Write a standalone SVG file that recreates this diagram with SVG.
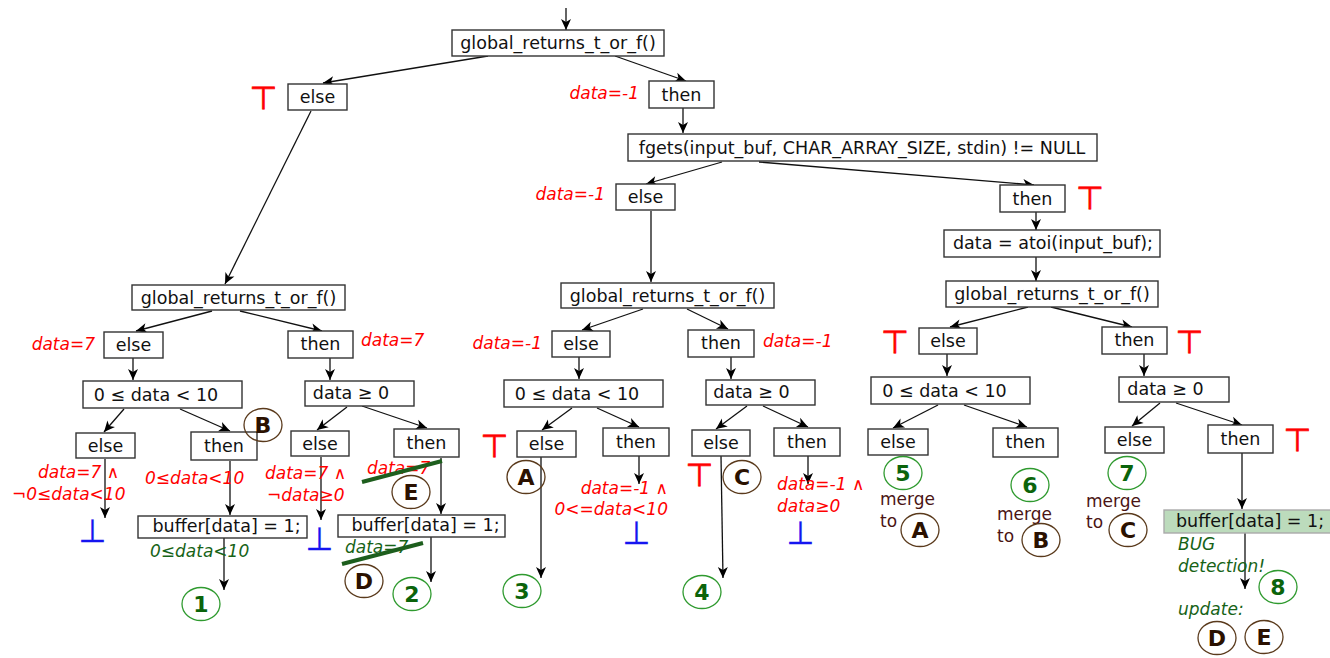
<svg xmlns="http://www.w3.org/2000/svg" width="1330" height="658" viewBox="0 0 1330 658">
<defs>
<marker id="ah" viewBox="-12 -6 13 12" refX="0" refY="0" markerWidth="13" markerHeight="12" orient="auto" markerUnits="userSpaceOnUse"><path d="M0,0 L-11,-5 L-8,0 L-11,5 Z" fill="#000"/></marker>
<style>
.b{fill:#fff;stroke:#333;stroke-width:1.4}
.bg{fill:#bcdbbc;stroke:#aaa;stroke-width:1.4}
.t{font-family:"DejaVu Sans",sans-serif;font-size:17.5px;fill:#111;text-anchor:middle}
.ts{font-family:"DejaVu Sans",sans-serif;font-size:17.5px;fill:#111}
.r{font-family:"DejaVu Sans",sans-serif;font-style:italic;font-size:17px;fill:#f00}
.re{font-family:"DejaVu Sans",sans-serif;font-style:italic;font-size:17px;fill:#f00;text-anchor:end}
.gi{font-family:"DejaVu Sans",sans-serif;font-style:italic;font-size:17px;fill:#176317}
.m{font-family:"DejaVu Sans",sans-serif;font-size:17px;fill:#4a1414}
.cg{fill:none;stroke:#2f9a2f;stroke-width:1.3}
.cb{fill:none;stroke:#5a3a1c;stroke-width:1.3}
.ng{font-family:"DejaVu Sans",sans-serif;font-weight:bold;font-size:22px;fill:#0b640b;text-anchor:middle}
.nb{font-family:"DejaVu Sans",sans-serif;font-weight:bold;font-size:22px;fill:#2b1100;text-anchor:middle}
.top{font-family:"DejaVu Sans",sans-serif;font-size:32px;fill:#f00;stroke:#f00;stroke-width:0.7;text-anchor:middle}
.bot{font-family:"DejaVu Sans",sans-serif;font-size:32px;fill:#1515f0;stroke:#1515f0;stroke-width:0.3;text-anchor:middle}
.st{stroke:#1d5e1d;stroke-width:4}
#conn line{stroke:#111;stroke-width:1.3;marker-end:url(#ah)}
</style>
</defs>
<rect width="1330" height="658" fill="#fff"/>
<g id="conn">
<line x1="566" y1="8" x2="566" y2="30"/>
<line x1="488" y1="56" x2="323" y2="83"/>
<line x1="615" y1="56" x2="686" y2="81"/>
<line x1="683" y1="108" x2="683" y2="133"/>
<line x1="722" y1="162" x2="646" y2="184"/>
<line x1="759" y1="162" x2="1034" y2="185"/>
<line x1="1036" y1="212" x2="1036" y2="230"/>
<line x1="1036" y1="257" x2="1036" y2="281"/>
<line x1="651" y1="211" x2="651" y2="282"/>
<line x1="311" y1="111" x2="225" y2="284"/>
<line x1="212" y1="311" x2="136" y2="331"/>
<line x1="240" y1="311" x2="322" y2="331"/>
<line x1="133" y1="358" x2="133" y2="380"/>
<line x1="330" y1="358" x2="330" y2="380"/>
<line x1="124" y1="409" x2="104" y2="432"/>
<line x1="180" y1="409" x2="230" y2="431"/>
<line x1="105" y1="459" x2="105" y2="518"/>
<line x1="230" y1="461" x2="230" y2="515"/>
<line x1="224" y1="538" x2="224" y2="590"/>
<line x1="347" y1="407" x2="317" y2="430"/>
<line x1="362" y1="406" x2="427" y2="428"/>
<line x1="321" y1="457" x2="321" y2="520"/>
<line x1="441" y1="458" x2="441" y2="514"/>
<line x1="431" y1="537" x2="431" y2="582"/>
<line x1="643" y1="309" x2="582" y2="330"/>
<line x1="687" y1="309" x2="728" y2="329"/>
<line x1="579" y1="357" x2="579" y2="379"/>
<line x1="731" y1="357" x2="731" y2="379"/>
<line x1="572" y1="408" x2="542" y2="430"/>
<line x1="597" y1="408" x2="639" y2="427"/>
<line x1="541" y1="457" x2="541" y2="578"/>
<line x1="639" y1="456" x2="639" y2="484"/>
<line x1="747" y1="406" x2="716" y2="429"/>
<line x1="763" y1="406" x2="808" y2="427"/>
<line x1="721" y1="456" x2="723" y2="578"/>
<line x1="808" y1="456" x2="808" y2="484"/>
<line x1="1028" y1="307" x2="950" y2="327"/>
<line x1="1051" y1="307" x2="1132" y2="327"/>
<line x1="947" y1="354" x2="947" y2="376"/>
<line x1="1144" y1="354" x2="1144" y2="376"/>
<line x1="938" y1="405" x2="893" y2="428"/>
<line x1="964" y1="405" x2="1027" y2="427"/>
<line x1="1160" y1="403" x2="1132" y2="426"/>
<line x1="1176" y1="403" x2="1242" y2="425"/>
<line x1="1242" y1="453" x2="1242" y2="509"/>
<line x1="1245" y1="533" x2="1245" y2="589"/>
</g>
<g id="n-g0"><rect class="b" x="452" y="30" width="212" height="26"/><text class="t" x="558" y="49">global_returns_t_or_f()</text></g>
<g id="n-e0"><rect class="b" x="288" y="84" width="59" height="26"/><text class="t" x="317.5" y="103">else</text><text class="top" x="263.5" y="109">⊤</text></g>
<g id="n-t0"><rect class="b" x="649" y="81" width="65" height="27"/><text class="t" x="681.5" y="101">then</text><text class="re" x="639" y="99">data=-1</text></g>
<g id="n-fgets"><rect class="b" x="628" y="134" width="469" height="27"/><text class="t" x="862" y="154">fgets(input_buf, CHAR_ARRAY_SIZE, stdin) != NULL</text></g>
<g id="n-e1"><rect class="b" x="616" y="184" width="59" height="26"/><text class="t" x="645.5" y="203">else</text><text class="re" x="605" y="200">data=-1</text></g>
<g id="n-t1"><rect class="b" x="1000" y="185" width="65" height="27"/><text class="t" x="1032.5" y="205">then</text><text class="top" x="1090" y="209">⊤</text></g>
<g id="n-atoi"><rect class="b" x="944" y="230" width="216" height="27"/><text class="t" x="1053" y="249">data = atoi(input_buf);</text></g>
<g id="n-g1"><rect class="b" x="132" y="285" width="213" height="25"/><text class="t" x="238.5" y="304">global_returns_t_or_f()</text></g>
<g id="n-g2"><rect class="b" x="561" y="283" width="213" height="25"/><text class="t" x="667.5" y="302">global_returns_t_or_f()</text></g>
<g id="n-g3"><rect class="b" x="946" y="281" width="212" height="26"/><text class="t" x="1052" y="300">global_returns_t_or_f()</text></g>

<g id="n-g1e"><rect class="b" x="104" y="332" width="59" height="26"/><text class="t" x="133.5" y="351">else</text><text class="re" x="95" y="350">data=7</text></g>
<g id="n-g1t"><rect class="b" x="288" y="331" width="65" height="27"/><text class="t" x="320.5" y="350">then</text><text class="r" x="361" y="346">data=7</text></g>
<g id="n-g1c"><rect class="b" x="83" y="381" width="159" height="27"/><text class="t" x="156" y="401">0 ≤ data &lt; 10</text></g>
<g id="n-g1d"><rect class="b" x="305" y="381" width="109" height="25"/><text class="t" x="351" y="399">data ≥ 0</text></g>
<g id="n-g1ce"><rect class="b" x="76" y="433" width="59" height="25"/><text class="t" x="105.5" y="452">else</text><text class="r" x="38" y="478">data=7 ∧</text><text class="r" x="12" y="500">¬0≤data&lt;10</text><text class="bot" x="92.5" y="542">⊥</text></g>
<g id="n-g1ct"><rect class="b" x="191" y="432" width="66" height="28"/><text class="t" x="224" y="452">then</text><ellipse class="cb" cx="263" cy="425" rx="19" ry="16.5"/><text class="nb" x="263" y="433">B</text><text class="r" x="145" y="484">0≤data&lt;10</text></g>
<g id="n-g1cb"><rect class="b" x="138" y="516" width="169" height="22"/><text class="t" x="226.5" y="532">buffer[data] = 1;</text><text class="gi" x="150" y="557">0≤data&lt;10</text></g>
<g id="n-1"><ellipse class="cg" cx="201" cy="604" rx="19" ry="16.5"/><text class="ng" x="201" y="612">1</text></g>
<g id="n-g1de"><rect class="b" x="291" y="431" width="58" height="25"/><text class="t" x="320" y="450">else</text><text class="r" x="265" y="479">data=7 ∧</text><text class="r" x="267" y="501">¬data≥0</text><text class="bot" x="319.5" y="550">⊥</text></g>
<g id="n-g1dt"><rect class="b" x="394" y="429" width="65" height="28"/><text class="t" x="426.5" y="449">then</text><text class="r" x="367" y="474">data=7</text><line class="st" x1="362" y1="482" x2="442" y2="461"/><ellipse class="cb" cx="411" cy="492" rx="19" ry="16.5"/><text class="nb" x="411" y="500">E</text></g>
<g id="n-g1db"><rect class="b" x="338" y="515" width="167" height="22"/><text class="t" x="425.5" y="531">buffer[data] = 1;</text><text class="gi" x="345" y="553">data=7</text><line class="st" x1="342" y1="564" x2="423" y2="543"/><ellipse class="cb" cx="364" cy="581" rx="19" ry="16.5"/><text class="nb" x="364" y="589">D</text></g>
<g id="n-2"><ellipse class="cg" cx="412" cy="594" rx="19" ry="16.5"/><text class="ng" x="412" y="602">2</text></g>

<g id="n-g2e"><rect class="b" x="552" y="331" width="58" height="26"/><text class="t" x="581" y="350">else</text><text class="re" x="542" y="349">data=-1</text></g>
<g id="n-g2t"><rect class="b" x="688" y="330" width="66" height="27"/><text class="t" x="721" y="349">then</text><text class="r" x="763" y="347">data=-1</text></g>
<g id="n-g2c"><rect class="b" x="504" y="380" width="159" height="27"/><text class="t" x="577" y="400">0 ≤ data &lt; 10</text></g>
<g id="n-g2d"><rect class="b" x="706" y="380" width="109" height="25"/><text class="t" x="751.5" y="398">data ≥ 0</text></g>
<g id="n-g2ce"><rect class="b" x="517" y="431" width="59" height="26"/><text class="t" x="546.5" y="450">else</text><text class="top" x="494.5" y="457">⊤</text><ellipse class="cb" cx="526" cy="477" rx="19" ry="16.5"/><text class="nb" x="526" y="485">A</text></g>
<g id="n-3"><ellipse class="cg" cx="522" cy="591" rx="19" ry="16.5"/><text class="ng" x="522" y="599">3</text></g>
<g id="n-g2ct"><rect class="b" x="603" y="428" width="66" height="28"/><text class="t" x="636" y="448">then</text><text class="re" x="668" y="494">data=-1 ∧</text><text class="re" x="668" y="515">0&lt;=data&lt;10</text><text class="bot" x="636.5" y="544">⊥</text></g>
<g id="n-g2de"><rect class="b" x="692" y="430" width="58" height="26"/><text class="t" x="721" y="449">else</text><text class="top" x="699.5" y="486">⊤</text><ellipse class="cb" cx="742" cy="477" rx="19" ry="16.5"/><text class="nb" x="742" y="485">C</text></g>
<g id="n-4"><ellipse class="cg" cx="702" cy="592" rx="19" ry="16.5"/><text class="ng" x="702" y="600">4</text></g>
<g id="n-g2dt"><rect class="b" x="774" y="428" width="66" height="28"/><text class="t" x="807" y="448">then</text><text class="r" x="777" y="490">data=-1 ∧</text><text class="r" x="777" y="512">data≥0</text><text class="bot" x="800.5" y="544">⊥</text></g>

<g id="n-g3e"><rect class="b" x="919" y="328" width="58" height="26"/><text class="t" x="948" y="347">else</text><text class="top" x="895" y="353">⊤</text></g>
<g id="n-g3t"><rect class="b" x="1102" y="327" width="65" height="27"/><text class="t" x="1134.5" y="346">then</text><text class="top" x="1189.5" y="353">⊤</text></g>
<g id="n-g3c"><rect class="b" x="871" y="377" width="159" height="27"/><text class="t" x="944.5" y="397">0 ≤ data &lt; 10</text></g>
<g id="n-g3d"><rect class="b" x="1119" y="377" width="110" height="25"/><text class="t" x="1165.5" y="395">data ≥ 0</text></g>
<g id="n-g3ce"><rect class="b" x="868" y="429" width="60" height="26"/><text class="t" x="898" y="448">else</text></g>
<g id="n-5"><ellipse class="cg" cx="903" cy="473" rx="19" ry="16.5"/><text class="ng" x="903" y="481">5</text><text class="m" x="880" y="505">merge</text><text class="m" x="880" y="527">to</text><ellipse class="cb" cx="920" cy="530" rx="19" ry="16.5"/><text class="nb" x="920" y="538">A</text></g>
<g id="n-g3ct"><rect class="b" x="993" y="428" width="65" height="29"/><text class="t" x="1025.5" y="448">then</text></g>
<g id="n-6"><ellipse class="cg" cx="1030" cy="485" rx="19" ry="16.5"/><text class="ng" x="1030" y="493">6</text><text class="m" x="997" y="520">merge</text><text class="m" x="997" y="542">to</text><ellipse class="cb" cx="1041" cy="540" rx="19" ry="16.5"/><text class="nb" x="1041" y="548">B</text></g>
<g id="n-g3de"><rect class="b" x="1105" y="427" width="59" height="26"/><text class="t" x="1134.5" y="446">else</text></g>
<g id="n-7"><ellipse class="cg" cx="1127" cy="473" rx="19" ry="16.5"/><text class="ng" x="1127" y="481">7</text><text class="m" x="1086" y="507">merge</text><text class="m" x="1086" y="528">to</text><ellipse class="cb" cx="1128" cy="530" rx="19" ry="16.5"/><text class="nb" x="1128" y="538">C</text></g>
<g id="n-g3dt"><rect class="b" x="1208" y="425" width="65" height="28"/><text class="t" x="1240.5" y="445">then</text><text class="top" x="1297.5" y="451">⊤</text></g>
<g id="n-bug"><rect class="bg" x="1164" y="510" width="168" height="23"/><text class="ts" x="1176" y="527">buffer[data] = 1;</text><text class="gi" x="1178" y="550">BUG</text><text class="gi" x="1178" y="572">detection!</text></g>
<g id="n-8"><ellipse class="cg" cx="1278" cy="587" rx="19" ry="16.5"/><text class="ng" x="1278" y="595">8</text><text class="gi" x="1178" y="615">update:</text><ellipse class="cb" cx="1217" cy="638" rx="19" ry="16.5"/><text class="nb" x="1217" y="646">D</text><ellipse class="cb" cx="1264" cy="637" rx="19" ry="16.5"/><text class="nb" x="1264" y="645">E</text></g>
</svg>
